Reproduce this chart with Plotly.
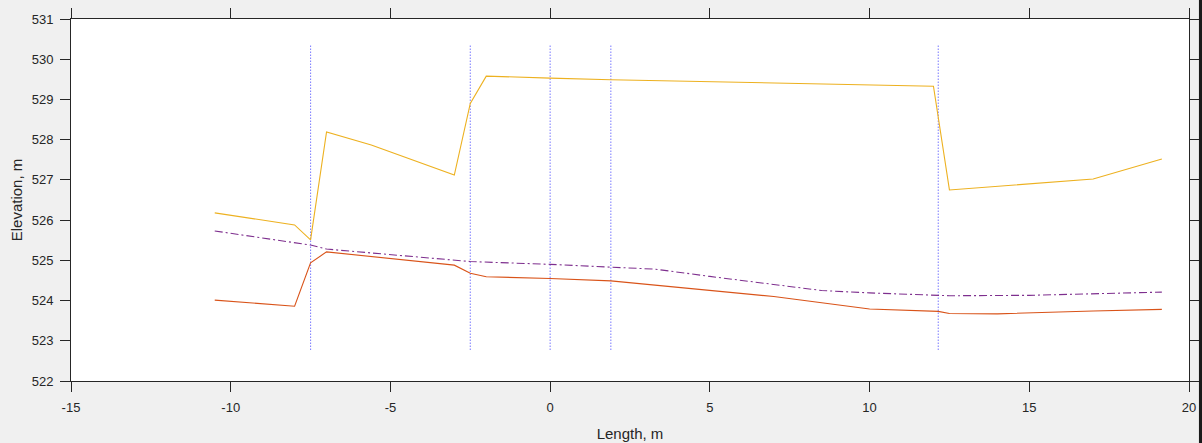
import plotly.graph_objects as go

# elevation profiles, length in m
top_x = [-10.5, -8.0, -7.5, -7.0, -5.6, -3.0, -2.5, -2.0, 0.0, 1.9, 12.0, 12.5, 17.0, 19.15]
top_y = [526.18, 525.88, 525.51, 528.19, 527.87, 527.12, 528.90, 529.58, 529.53, 529.49,
         529.33, 526.75, 527.02, 527.52]

water_x = [-10.5, -7.5, -7.0, -3.0, -2.5, 0.0, 1.9, 3.3, 5.0, 7.0, 8.5, 10.0, 12.0, 12.5,
           15.0, 17.0, 19.15]
water_y = [525.73, 525.38, 525.28, 524.99, 524.97, 524.90, 524.83, 524.78, 524.60, 524.40,
           524.25, 524.19, 524.13, 524.12, 524.13, 524.17, 524.21]

bed_x = [-10.5, -8.0, -7.5, -7.0, -3.0, -2.5, -2.0, 0.0, 1.9, 7.0, 10.0, 12.15, 12.5, 14.0,
         17.0, 19.15]
bed_y = [524.01, 523.86, 524.94, 525.21, 524.88, 524.68, 524.59, 524.55, 524.49, 524.10,
         523.79, 523.73, 523.68, 523.67, 523.74, 523.78]

# section markers (vertical dotted lines)
section_x = [-7.5, -2.5, 0.0, 1.9, 12.15]
section_lo = 522.77
section_hi = 530.38

# x tick labels (plain hyphen as minus, like the reference)
x_ticks = [-15, -10, -5, 0, 5, 10, 15, 20]
x_ticklabels = ["-15", "-10", "-5", "0", "5", "10", "15", "20"]

fig = go.Figure()

for sx in section_x:
    fig.add_trace(go.Scatter(x=[sx, sx], y=[section_lo, section_hi], mode="lines",
                             line=dict(color="#8585ff", width=1.1, dash="1.5px,1.5px"),
                             showlegend=False, hoverinfo="skip"))

fig.add_trace(go.Scatter(x=top_x, y=top_y, mode="lines",
                         line=dict(color="#EDB120", width=1.1), showlegend=False))
fig.add_trace(go.Scatter(x=water_x, y=water_y, mode="lines",
                         line=dict(color="#7E2F8E", width=1.1, dash="8px,3px,2px,3px"),
                         showlegend=False))
fig.add_trace(go.Scatter(x=bed_x, y=bed_y, mode="lines",
                         line=dict(color="#D95319", width=1.1), showlegend=False))

axis_style = dict(showgrid=False, zeroline=False, showline=True, linecolor="#262626",
                  linewidth=1, mirror="ticks", ticks="outside", ticklen=10,
                  tickcolor="#262626", tickwidth=1, automargin=False,
                  ticklabelstandoff=4,
                  tickfont=dict(size=13, color="#262626"))

fig.update_xaxes(range=[-15, 20], tickvals=x_ticks, ticktext=x_ticklabels,
                 title=dict(text="Length, m", font=dict(size=15, color="#262626"), standoff=14),
                 **axis_style)
fig.update_yaxes(range=[522, 531], dtick=1,
                 title=dict(text="Elevation, m", font=dict(size=15, color="#262626"), standoff=5),
                 **axis_style)

# dark edge of the neighbouring panel on the right
fig.add_shape(type="rect", xref="paper", yref="paper", x0=1.0089, x1=1.02, y0=-0.2, y1=1.1,
              fillcolor="#1a1a1a", line=dict(width=0), layer="above")

fig.update_layout(
    width=1202, height=443,
    margin=dict(l=71, r=13, t=19, b=62),
    paper_bgcolor="#f0f0f0", plot_bgcolor="white",
    font=dict(family="Liberation Sans, Arial, sans-serif", color="#262626"),
    showlegend=False,
)

# drop the default page margin so the figure sits at the window's corner
fig.write_html("out.html", config={"displayModeBar": False},
               post_script="document.body.style.margin='0';"
                           "document.body.style.background='#f0f0f0';")
